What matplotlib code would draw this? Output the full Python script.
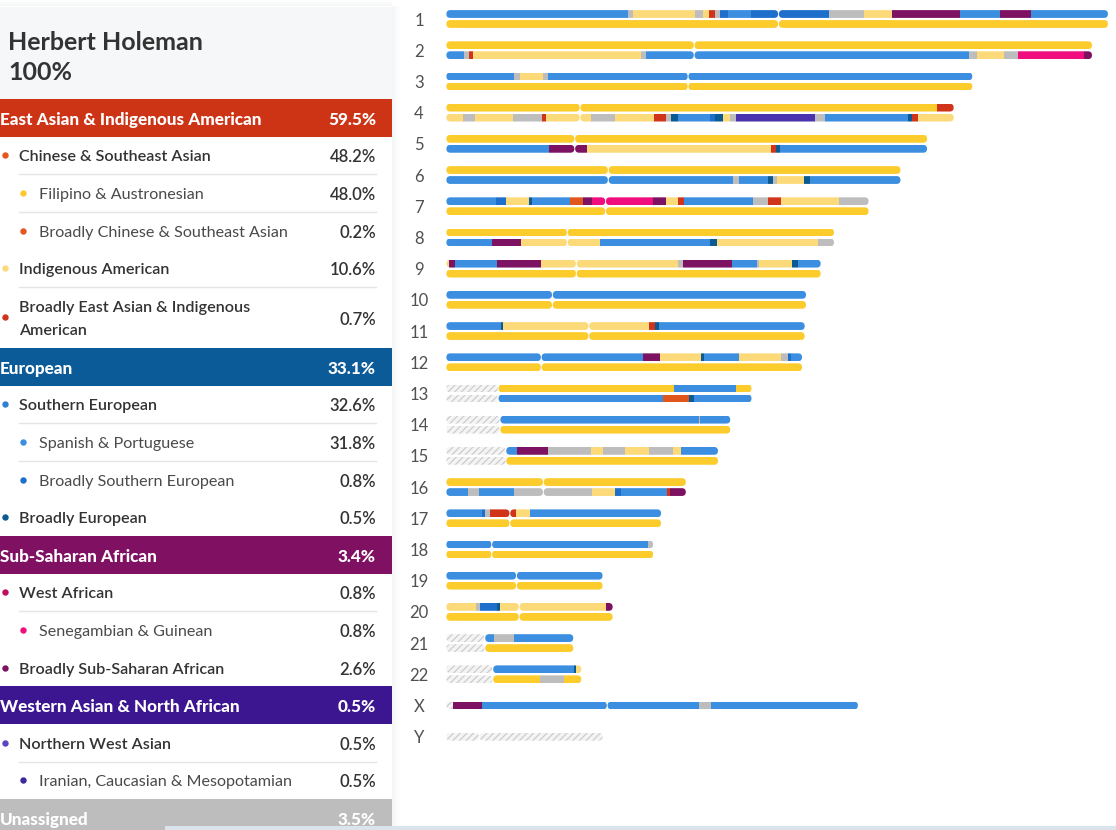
import matplotlib
matplotlib.use('Agg')
import matplotlib.pyplot as plt
from matplotlib.patches import Rectangle, FancyBboxPatch
from matplotlib.path import Path

plt.rcParams['font.family'] = ['Lato', 'DejaVu Sans']
plt.rcParams['hatch.color'] = '#cdcdcd'
plt.rcParams['hatch.linewidth'] = 0.9

# ---- ancestry breakdown (left panel) ----
person = 'Herbert Holeman'
total_share = '100%'

row_labels = ['East Asian & Indigenous American', 'Chinese & Southeast Asian',
              'Filipino & Austronesian', 'Broadly Chinese & Southeast Asian',
              'Indigenous American', 'Broadly East Asian & Indigenous\nAmerican',
              'European', 'Southern European', 'Spanish & Portuguese',
              'Broadly Southern European', 'Broadly European',
              'Sub-Saharan African', 'West African', 'Senegambian & Guinean',
              'Broadly Sub-Saharan African', 'Western Asian & North African',
              'Northern West Asian', 'Iranian, Caucasian & Mesopotamian', 'Unassigned']
row_values = ['59.5%', '48.2%', '48.0%', '0.2%', '10.6%', '0.7%',
              '33.1%', '32.6%', '31.8%', '0.8%', '0.5%',
              '3.4%', '0.8%', '0.8%', '2.6%',
              '0.5%', '0.5%', '0.5%', '3.5%']
# 0 = region band, 1 = population, 2 = sub-population
row_levels = [0, 1, 2, 2, 1, 1, 0, 1, 2, 2, 1, 0, 1, 2, 1, 0, 1, 2, 0]
row_colors = ['#cd3315', '#e4561c', '#fcc92c', '#e4561c', '#fcda7a', '#d0341a',
              '#0b5b98', '#2e7fd6', '#3b8ee0', '#1e6fcb', '#0c5a93',
              '#7f1062', '#c10f5f', '#f00e7e', '#7d1263',
              '#3c1590', '#5b45c0', '#3b2a9e', '#bdbdbd']

# ---- chromosome painting (Mb) ----
chrom_names = [str(i) for i in range(1, 23)] + ['X', 'Y']
chrom_length = [249, 243, 198, 191, 181, 171, 159, 146, 141, 135.5, 135, 134,
                115, 107, 102.4, 90.3, 81, 78, 59, 62.8, 48, 51, 155, 59]
centromere = [125, 93.3, 91, 50.4, 48.4, 61, 60, 45.6, 49, 40, 53.7, 35.8,
              19.6, 20.3, 22.5, 36.6, 24, 17.2, 26.5, 27.5, 14.6, 17.6, 60.6, 12.5]

palette = {
    'FA': '#fccb2c',  # Filipino & Austronesian
    'IA': '#fcda7a',  # Indigenous American
    'BC': '#e1561b',  # Broadly Chinese & Southeast Asian
    'BE': '#d0341a',  # Broadly East Asian & Indigenous American
    'SP': '#3b8ee0',  # Spanish & Portuguese
    'BS': '#1e6fcb',  # Broadly Southern European
    'BU': '#0c5a93',  # Broadly European
    'SG': '#f00e7e',  # Senegambian & Guinean
    'BA': '#7d1263',  # Broadly Sub-Saharan African
    'IR': '#4a31ad',  # Iranian, Caucasian & Mesopotamian
    'UA': '#bdbdbd',  # Unassigned
}

# each segment: (end position, ancestry code); 'NA' = no data
paint_a = [
    [(68.3, 'SP'), (70.2, 'UA'), (93.6, 'IA'), (96.8, 'UA'), (98.8, 'IA'), (101.2, 'BE'),
     (103, 'UA'), (105.9, 'BS'), (114.6, 'SP'), (144, 'BS'), (157, 'UA'), (167.6, 'IA'),
     (193.3, 'BA'), (208.2, 'SP'), (220, 'BA'), (249, 'SP')],
    [(243, 'FA')],
    [(25.5, 'SP'), (27.9, 'UA'), (36.4, 'IA'), (38.4, 'UA'), (198, 'SP')],
    [(184.6, 'FA'), (191, 'BE')],
    [(181, 'FA')],
    [(171, 'FA')],
    [(18.7, 'SP'), (22.5, 'BS'), (31.1, 'IA'), (32.3, 'BU'), (46.6, 'SP'), (51.4, 'BC'),
     (54.9, 'BA'), (77.8, 'SG'), (82.8, 'BA'), (87.2, 'IA'), (89.5, 'BE'), (115.5, 'SP'),
     (120.9, 'UA'), (125.8, 'BE'), (147.8, 'IA'), (159, 'UA')],
    [(146, 'FA')],
    [(1.3, 'IA'), (3.5, 'BA'), (19.1, 'SP'), (35.7, 'BA'), (87.2, 'IA'), (89.1, 'UA'),
     (107.7, 'BA'), (116.8, 'SP'), (117.8, 'UA'), (129.9, 'IA'), (132.4, 'BU'), (141, 'SP')],
    [(135.5, 'SP')],
    [(20.7, 'SP'), (21.5, 'BU'), (76.4, 'IA'), (78.7, 'BE'), (80.2, 'BU'), (135, 'SP')],
    [(74.2, 'SP'), (80.6, 'BA'), (96, 'IA'), (97, 'BU'), (110.3, 'SP'), (126, 'IA'),
     (128.7, 'UA'), (129.7, 'BS'), (134, 'SP')],
    [(19.6, 'NA'), (85.8, 'FA'), (109.2, 'SP'), (115, 'FA')],
    [(20.3, 'NA'), (95.1, 'SP'), (95.6, 'UA'), (107, 'SP')],
    [(22.5, 'NA'), (26.7, 'SP'), (38.4, 'BA'), (54.6, 'UA'), (58.9, 'IA'), (67.4, 'UA'),
     (76.5, 'IA'), (85.4, 'UA'), (88.5, 'IA'), (102.4, 'SP')],
    [(90.3, 'FA')],
    [(13.6, 'SP'), (14.7, 'BS'), (16.6, 'UA'), (26.3, 'BE'), (31.6, 'IA'), (81, 'SP')],
    [(75.8, 'SP'), (78, 'UA')],
    [(59, 'SP')],
    [(11.3, 'IA'), (12.8, 'UA'), (19.3, 'BS'), (20.3, 'BU'), (60.2, 'IA'), (62.8, 'BA')],
    [(14.6, 'NA'), (18.1, 'SP'), (25.6, 'UA'), (48, 'SP')],
    [(17.6, 'NA'), (48.2, 'SP'), (48.9, 'BU'), (51, 'IA')],
    [(2.6, 'NA'), (13.6, 'BA'), (95.1, 'SP'), (99.7, 'UA'), (155, 'SP')],
    [(59, 'NA')],
]
paint_b = [
    [(249, 'FA')],
    [(6.7, 'SP'), (8.7, 'UA'), (10.2, 'BE'), (73.3, 'IA'), (75.2, 'UA'), (196.6, 'SP'),
     (199.7, 'UA'), (209.7, 'IA'), (214.9, 'UA'), (240, 'SG'), (243, 'BA')],
    [(198, 'FA')],
    [(6.5, 'IA'), (10.9, 'UA'), (25.3, 'IA'), (36.2, 'UA'), (37.6, 'BE'), (54.5, 'IA'),
     (63.6, 'UA'), (78.2, 'IA'), (82.7, 'BE'), (84.6, 'UA'), (87.4, 'BU'), (99.3, 'SP'),
     (101.2, 'BS'), (104.2, 'BU'), (106.7, 'IA'), (109, 'UA'), (138.8, 'IR'), (142.3, 'UA'),
     (173.7, 'SP'), (175.3, 'BU'), (177.3, 'BE'), (191, 'IA')],
    [(38.6, 'SP'), (53, 'BA'), (122.3, 'IA'), (124.1, 'BE'), (125.7, 'BU'), (181, 'SP')],
    [(107.9, 'SP'), (110.1, 'UA'), (120.9, 'SP'), (123, 'BU'), (124.6, 'UA'), (134.7, 'IA'),
     (136.9, 'BU'), (171, 'SP')],
    [(159, 'FA')],
    [(17.2, 'SP'), (28.1, 'BA'), (57.9, 'IA'), (99.3, 'SP'), (102, 'BU'), (139.7, 'IA'),
     (146, 'UA')],
    [(141, 'FA')],
    [(135.5, 'FA')],
    [(135, 'FA')],
    [(134, 'FA')],
    [(19.6, 'NA'), (81.4, 'SP'), (91.2, 'BC'), (93.1, 'BU'), (115, 'SP')],
    [(20.3, 'NA'), (107, 'FA')],
    [(22.5, 'NA'), (102.4, 'FA')],
    [(8.3, 'SP'), (12.4, 'UA'), (25.7, 'SP'), (55, 'UA'), (63.5, 'IA'), (65.9, 'BS'),
     (83.2, 'SP'), (84.2, 'BE'), (90.3, 'BA')],
    [(81, 'FA')],
    [(78, 'FA')],
    [(59, 'FA')],
    [(62.8, 'FA')],
    [(14.6, 'NA'), (48, 'FA')],
    [(17.6, 'NA'), (35.4, 'FA'), (44.4, 'UA'), (51, 'FA')],
    None,
    None,
]

fig = plt.figure(figsize=(11.16, 8.3), dpi=100)

# ---- left panel ----
bg = fig.add_axes([0, 0, 1, 1])
bg.set_xlim(0, 1116)
bg.set_ylim(830, 0)
bg.axis('off')

for k, a in enumerate([0.09, 0.055, 0.03, 0.012]):
    bg.add_patch(Rectangle((392 + 2 * k, 6), 2, 830, color='#8a96a3', alpha=a, lw=0))
    bg.add_patch(Rectangle((0, 5 - 1.5 * k), 392, 1.5, color='#8a96a3', alpha=a, lw=0))
bg.add_patch(Rectangle((0, 7), 392, 92, color='#f6f7f9', lw=0))
bg.text(8, 43, person, fontsize=18, weight='bold', color='#333333', va='center')
bg.text(8, 72, total_share, fontsize=18, weight='bold', color='#333333', va='center')

y = 99
for i, (lab, val, lev, col) in enumerate(zip(row_labels, row_values, row_levels, row_colors)):
    h = 61 if '\n' in lab else 37.6
    yc = y + h / 2
    ty = yc + 2
    if lev == 0:
        bg.add_patch(Rectangle((0, y), 392, h, color=col, lw=0))
        bg.text(0, ty, lab, color='white', weight='black', fontsize=12.3, va='center')
        bg.text(376, ty, val, color='white', weight='black', fontsize=12.3, va='center', ha='right')
    else:
        dot_x, text_x = (4.5, 19) if lev == 1 else (23, 39)
        bg.plot([dot_x], [yc], 'o', ms=4.6, color=col, mec='none')
        bg.text(text_x, ty, lab, fontsize=11.6, va='center', linespacing=1.75,
                color='#333333' if lev == 1 else '#4a4a4a',
                weight='semibold' if lev == 1 else 'normal')
        bg.text(376, ty, val, fontsize=12, va='center', ha='right', color='#333333',
                weight='semibold')
        nxt = row_levels[i + 1]
        if nxt != 0 and not (lev == 2 and nxt == 1):
            bg.plot([19, 376], [y + h, y + h], color='#e3e5e8', lw=1)
    y += h

bg.add_patch(Rectangle((165, 826), 951, 4, color='#dbe4ea', lw=0, zorder=5))

# ---- chromosome painting ----
ax = fig.add_axes([446 / 1116, 0, 670 / 1116, 1])
ax.patch.set_visible(False)
ax.set_xlim(0, 670 / 2.66)
ax.set_ylim(25.99, -0.609)
for s in ax.spines.values():
    s.set_visible(False)
ax.set_xticks([])
ax.set_yticks(range(len(chrom_names)))
ax.set_yticklabels(chrom_names, fontsize=12, color='#505050')
ax.tick_params(axis='y', length=0, pad=19.4)
for t in ax.get_yticklabels():
    t.set_ha('center')

strip_h = 0.25
aspect = 2.66 / 31.2


def arm_outline(length, cen, yc):
    paths = []
    for a0, a1 in [(0, cen), (cen, length)]:
        box = FancyBboxPatch((a0 + 0.15, yc - strip_h / 2), a1 - a0 - 0.3, strip_h,
                             boxstyle='round,pad=0,rounding_size=%f' % (strip_h / aspect / 2),
                             mutation_aspect=aspect)
        paths.append(box.get_path())
    return Path.make_compound_path(*paths)


def paint_strip(segs, yc, length, cen):
    starts = [0] + [e for e, _ in segs[:-1]]
    clip = arm_outline(length, cen, yc)
    solid = [(s, e - s, palette[c]) for s, (e, c) in zip(starts, segs) if c != 'NA']
    blank = [(s, e - s) for s, (e, c) in zip(starts, segs) if c == 'NA']
    if solid:
        coll = ax.broken_barh([(s, w) for s, w, _ in solid], (yc - strip_h / 2, strip_h),
                              facecolors=[c for _, _, c in solid], linewidth=0)
        coll.set_clip_path(clip, ax.transData)
    if blank:
        coll = ax.broken_barh(blank, (yc - strip_h / 2, strip_h), facecolors='#f4f4f4',
                              edgecolors='#cdcdcd', linewidth=0, hatch='/////')
        coll.set_clip_path(clip, ax.transData)


for i in range(len(chrom_names)):
    if paint_b[i] is None:
        paint_strip(paint_a[i], i, chrom_length[i], centromere[i])
    else:
        paint_strip(paint_a[i], i - 0.16, chrom_length[i], centromere[i])
        paint_strip(paint_b[i], i + 0.16, chrom_length[i], centromere[i])

fig.savefig('out.png', dpi=100, facecolor='white')
